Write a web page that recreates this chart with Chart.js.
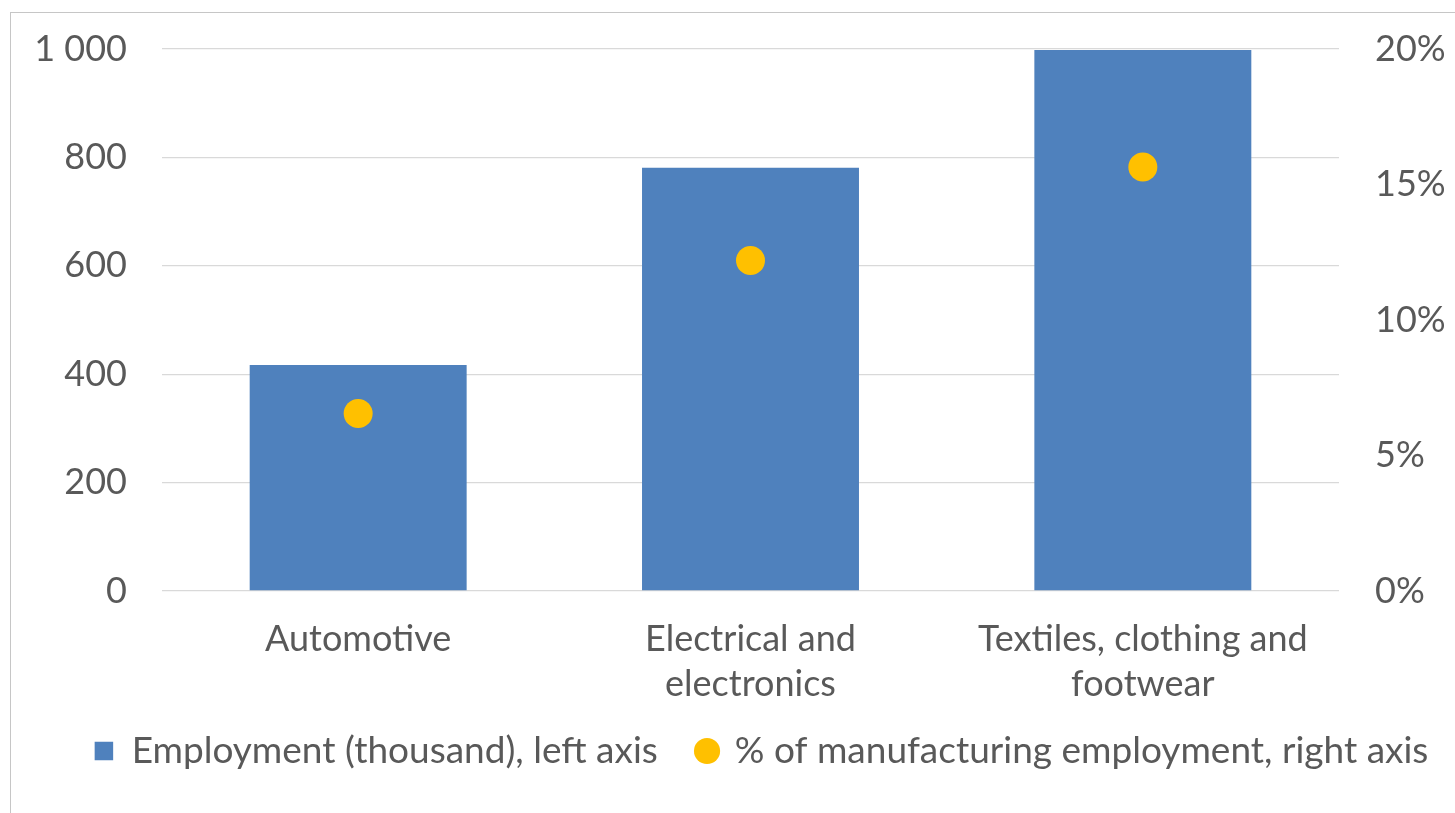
<!DOCTYPE html>
<html>
<head>
<meta charset="utf-8">
<script src="https://cdn.jsdelivr.net/npm/chart.js@4/dist/chart.umd.min.js"></script>
<style>
  html, body { margin: 0; padding: 0; background: #fff; }
  #wrap { position: relative; width: 1455px; height: 813px; overflow: hidden; }
  #frame { position: absolute; left: 10px; top: 12px; width: 2000px; height: 2000px;
           border-left: 1px solid #c6c6c6; border-top: 1px solid #c6c6c6; }
  #chart { position: absolute; left: 0; top: 0; }
</style>
</head>
<body>
<div id="wrap">
  <div id="frame"></div>
  <canvas id="chart" width="1455" height="813"></canvas>
</div>
<script>
const categories = ["Automotive", ["Electrical and", "electronics"], ["Textiles, clothing and", "footwear"]];
const employment = [417, 781, 998];      // thousand, left axis
const shareOfMfg = [6.55, 12.2, 15.65];  // %, right axis
const leftTicks = [0, 200, 400, 600, 800, 1000];
const rightTicks = [0, 5, 10, 15, 20];

const textColor = "#595959";
const font = { family: "Lato, 'Open Sans', sans-serif", size: 36 };

// nudge the legend row right, and let the two-line category labels
// spill below the x axis box instead of being clipped
const layoutTweaks = {
  id: "layoutTweaks",
  afterLayout(chart) {
    const lg = chart.legend;
    if (lg) {
      lg.left += 19;
      lg.right += 19;
    }
    chart.scales.x.bottom += 50;
  }
};

// y axes: keep the tick padding out of the top/bottom layout margins
const noVertPadding = (axis) => {
  axis.paddingTop = 0;
  axis.paddingBottom = 0;
};

document.addEventListener("DOMContentLoaded", () => {
  const ctx = document.getElementById("chart").getContext("2d");
  new Chart(ctx, {
    data: {
      labels: categories,
      datasets: [
        {
          type: "bar",
          label: "Employment (thousand), left axis",
          data: employment,
          backgroundColor: "#4f81bd",
          borderWidth: 0,
          yAxisID: "y",
          categoryPercentage: 1,
          barPercentage: 0.553,
          pointStyle: "rect",
          order: 2
        },
        {
          type: "line",
          label: "% of manufacturing employment, right axis",
          data: shareOfMfg,
          showLine: false,
          backgroundColor: "#ffc000",
          borderColor: "#ffc000",
          borderWidth: 0,
          pointRadius: 14.5,
          pointHoverRadius: 14.5,
          pointStyle: "circle",
          yAxisID: "y1",
          order: 1
        }
      ]
    },
    options: {
      responsive: false,
      animation: false,
      devicePixelRatio: 1,
      layout: { padding: { left: 30, right: 0, top: 49, bottom: 33.5 } },
      scales: {
        x: {
          grid: { display: false },
          border: { display: false },
          ticks: { color: textColor, font: { ...font, lineHeight: 1.25 }, padding: 18, maxRotation: 0, autoSkip: false },
          afterFit: (axis) => { axis.height = 101.5; }
        },
        y: {
          position: "left",
          min: 0,
          max: 1000,
          afterBuildTicks: (axis) => { axis.ticks = leftTicks.map(v => ({ value: v })); },
          grid: { color: "#d9d9d9", lineWidth: 1.3, drawTicks: false },
          border: { display: false },
          ticks: {
            color: textColor,
            font: font,
            padding: 35,
            callback: (v) => v === 1000 ? "1 000" : String(v)
          },
          afterFit: (axis) => { axis.width = 132; noVertPadding(axis); }
        },
        y1: {
          position: "right",
          min: 0,
          max: 20,
          afterBuildTicks: (axis) => { axis.ticks = rightTicks.map(v => ({ value: v })); },
          grid: { display: false, drawTicks: false },
          border: { display: false },
          ticks: {
            color: textColor,
            font: font,
            padding: 36,
            callback: (v) => v + "%"
          },
          afterFit: (axis) => { axis.width = 116; noVertPadding(axis); }
        }
      },
      plugins: {
        tooltip: { enabled: false },
        legend: {
          position: "bottom",
          labels: {
            color: textColor,
            font: { ...font, size: 37 },
            usePointStyle: true,
            boxHeight: 18.5,
            boxWidth: 18.5,
            padding: 40,
            sort: (a, b) => a.datasetIndex - b.datasetIndex
          }
        }
      }
    },
    plugins: [layoutTweaks]
  });
});
</script>
</body>
</html>
